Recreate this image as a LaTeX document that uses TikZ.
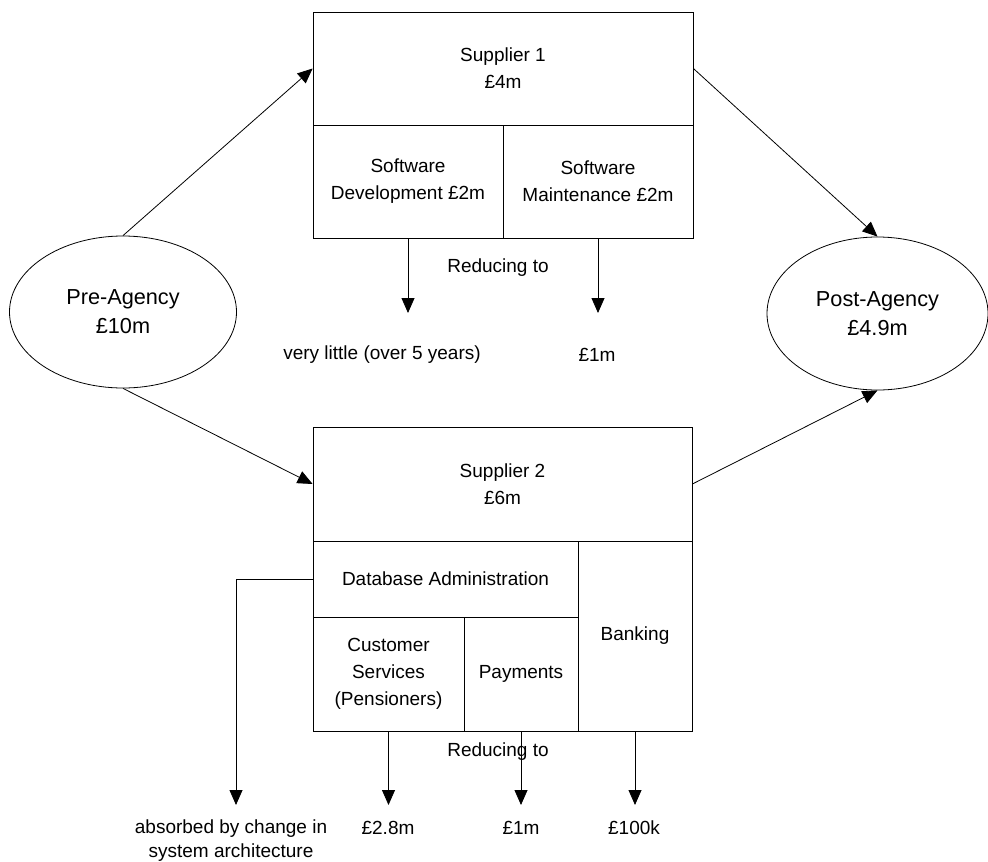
\documentclass[tikz,border=0pt]{standalone}
\usepackage{fontspec}
\setmainfont{Liberation Sans}
\usetikzlibrary{arrows.meta,shapes.geometric}
\begin{document}
\begin{tikzpicture}[x=1pt,y=-1pt,
  line width=0.8pt,
  box/.style={draw, rectangle, inner sep=0pt, align=center,
    font=\fontsize{19}{27}\selectfont},
  oval/.style={draw, ellipse, inner sep=0pt, align=center,
    font=\fontsize{21.7}{29}\selectfont},
  lbl/.style={inner sep=0pt, align=center, font=\fontsize{19}{24}\selectfont},
  flow/.style={-{Triangle[length=15pt,width=13pt]}}
]
\useasboundingbox (0,0) rectangle (988,862);

% start and end totals
\node[oval, minimum width=227, minimum height=152] (pre) at (123,312) {Pre-Agency\\£10m};
\node[oval, minimum width=221, minimum height=153] (post) at (877.5,313.5) {Post-Agency\\£4.9m};

% Supplier 1 and its services
\node[box, minimum width=380, minimum height=113] (s1) at (503,68.5) {Supplier 1\\£4m};
\node[box, minimum width=190, minimum height=113] (sd) at (408,181.5) {Software\\Development £2m};
\node[box, minimum width=190, minimum height=113] (sm) at (598,181.5) {Software\\Maintenance £2m};

% Supplier 2 and its services
\node[box, minimum width=379, minimum height=114] (s2) at (502.5,484) {Supplier 2\\£6m};
\node[box, minimum width=265, minimum height=76] (db) at (445.5,579) {Database Administration};
\node[box, minimum width=151, minimum height=114] (cs) at (388.5,674) {Customer\\Services\\(Pensioners)};
\node[box, minimum width=114, minimum height=114] (pay) at (521,674) {Payments};
\node[box, minimum width=114, minimum height=190] (bank) at (635,636) {Banking};

% flows between totals and suppliers
\draw[flow] (pre.north) -- (s1.west);
\draw[flow] (s1.east) -- (post.north);
\draw[flow] (pre.south) -- (s2.west);
\draw[flow] (s2.east) -- (post.south);

% reductions for Supplier 1
\coordinate (sdEnd) at (408,313);
\coordinate (smEnd) at (598,313);
\draw[flow] (sd.south) -- (sdEnd);
\draw[flow] (sm.south) -- (smEnd);
\node[lbl] (red1) at (498,268) {Reducing to};
\node[lbl] (little) at (382,355) {very little (over 5 years)};
\node[lbl] (m1a) at (597,355) {£1m};

% reductions for Supplier 2
\coordinate (dbTurn) at (236,579);
\coordinate (dbEnd) at (236,805);
\coordinate (csEnd) at (388.5,805);
\coordinate (payEnd) at (521,805);
\coordinate (bankEnd) at (635,805);
\draw[flow] (db.west) -- (dbTurn) -- (dbEnd);
\draw[flow] (cs.south) -- (csEnd);
\draw[flow] (pay.south) -- (payEnd);
\draw[flow] (bank.south) -- (bankEnd);
\node[lbl] (red2) at (498,752) {Reducing to};
\node[lbl, font=\fontsize{19}{24}\selectfont] (absorbed) at (231,841) {absorbed by change in\\system architecture};
\node[lbl] (m28) at (388,828) {£2.8m};
\node[lbl] (m1b) at (521,828) {£1m};
\node[lbl] (k100) at (634,828) {£100k};
\end{tikzpicture}
\end{document}
